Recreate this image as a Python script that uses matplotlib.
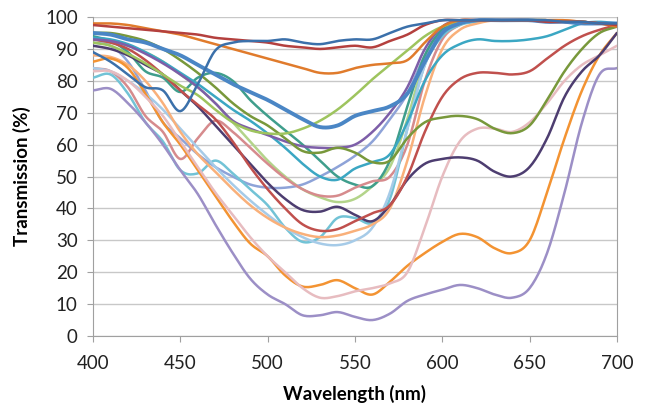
import numpy as np
import matplotlib
matplotlib.use("Agg")
import matplotlib.pyplot as plt

plt.rcParams['font.family'] = ['Lato', 'DejaVu Sans']

wavelength = list(range(400, 701, 10))

# Transmission (%) series, one value per 10 nm
s_jump_blue = [89, 86, 82, 78, 77, 70.5, 79, 89.5, 92, 92.5, 92.5, 93, 92, 91.5, 92.5, 93, 93, 95, 97, 98, 99, 99, 99, 99, 99, 99, 99, 98.5, 98.5, 98, 98]
s_dark_red = [97.5, 97, 96.5, 96, 95.5, 95, 94.5, 93.5, 93, 92.5, 92, 91, 90.5, 90, 90.5, 91, 90.5, 92.5, 94.5, 97.5, 99, 99, 99, 99, 99, 99, 98.5, 98.5, 98.5, 98, 97.5]
s_orange = [98, 98, 97.5, 96.5, 95.5, 94.5, 93, 91.5, 90, 88.5, 87, 85.5, 84, 82.5, 82.5, 84, 85, 85.5, 86.5, 92, 97, 99, 99, 99, 99, 99, 99, 99, 98.5, 98, 97]
s_thick_blue = [95, 94.5, 93, 92, 90, 88, 85, 82, 79, 76.5, 74, 71, 68, 65.5, 66, 69, 70.5, 72, 76, 86, 95, 98, 99, 99, 99, 99, 98.5, 98.5, 98, 98, 98]
s_light_green = [92, 91, 88.5, 85.5, 82, 78.5, 75.5, 71, 67, 64.5, 63.5, 63.5, 65, 67.5, 71, 75.5, 80.5, 85, 89.5, 94, 97, 98.5, 99, 99, 99, 99, 99, 98.5, 98.5, 98, 98]
s_olive = [95, 95, 94, 92.5, 90, 86.5, 82.5, 78, 73, 69, 66, 62, 58, 57.5, 59, 57.5, 54.5, 55, 62, 67, 68.5, 69, 68, 65, 63.6, 66, 74, 83, 90, 95, 97]
s_purple = [93, 92.5, 91, 88.5, 85.5, 82, 78, 73, 67.5, 65, 63, 61, 59.5, 59, 59, 60, 64, 70, 78, 90, 97, 99, 99, 99, 99, 99, 99, 98.5, 98.5, 98, 97.5]
s_aqua = [93.5, 93, 91.5, 89, 86, 82.5, 79, 75, 71, 67.5, 63.5, 59, 54, 50, 49, 52.5, 54.5, 57, 67, 80, 88, 91.5, 93, 92.5, 92.5, 93, 94, 96, 98, 98.5, 98]
s_red = [93, 92, 90, 86.5, 82, 77, 72.5, 68, 61, 53, 46, 40, 35, 33, 33.5, 36, 38.5, 41, 50, 64, 75, 80.5, 82.5, 82.5, 82, 83, 87, 91, 94, 96, 97.5]
s_navy = [91, 90, 88, 85, 82, 77, 72, 66, 60, 54, 48, 43, 39.5, 39, 40.5, 38, 36, 41, 49, 54, 55.5, 56, 55, 51.5, 50, 53, 62, 75, 83, 88, 95]
s_pink = [83, 83, 80, 75, 69, 61, 53, 45, 38, 31, 25, 20, 15, 12, 12.5, 14, 15, 16.5, 20, 34, 50, 61, 65, 65, 64, 67, 73, 80, 85, 88, 91]
s_lavender = [77, 77.5, 73, 67, 60, 52, 44.5, 35, 26, 18, 13, 10, 6.5, 6.5, 7.5, 6, 5, 7, 11, 13, 14.5, 16, 15, 13, 12, 15, 26, 45, 67, 82, 84]
s_deep_orange = [86, 87, 84, 76, 67, 60, 52, 44, 36, 29, 25, 19, 15.5, 16, 17.5, 15, 13, 17, 22, 26, 29.5, 32, 31, 27.5, 26, 30, 45, 62, 77, 88, 95]
s_peach = [88, 87.5, 85, 80, 73, 64, 57, 51.5, 46, 41, 37, 34, 32, 31, 31.5, 33, 35, 40, 55, 75, 90, 96, 98, 99, 99, 99, 99, 99, 98.5, 98, 98]
s_light_blue = [84, 83, 80, 76, 71, 65, 59, 53, 47.5, 42.5, 38, 34, 31, 29, 28.5, 30, 34, 45, 65, 85, 95, 98, 99, 99, 99, 99, 99, 98.5, 98.5, 98, 98]
s_aqua_light = [81, 82, 76, 67, 61, 52, 51, 55, 51, 46, 41, 34, 29.5, 31, 37, 37, 35.5, 43, 65, 85, 94, 97.5, 98.5, 99, 99, 99, 99, 98.5, 98.5, 98, 98]
s_rose = [84, 83, 78, 69, 64, 55.5, 62, 67.5, 64, 59, 54, 49.5, 46, 44, 44, 46.5, 48.5, 50, 60, 80, 93, 97.5, 99, 99, 99, 99, 99, 98.5, 98.5, 98, 98]
s_teal_green = [94, 92.5, 89, 83, 81, 76.5, 81, 82.5, 80, 74, 69, 64.5, 60, 55, 50, 47.5, 47, 55, 72, 88, 96, 98, 99, 99, 99, 99, 99, 98.5, 98.5, 98, 98]
s_periwinkle = [92, 91, 86, 77, 67, 62, 57, 53, 50, 47.5, 46.5, 46.5, 47.5, 50, 53, 56.5, 61, 68, 76, 88, 96, 98, 99, 99, 99, 99, 99, 98.5, 98.5, 98, 98]
s_pale_green = [93, 92, 91, 89, 86, 82, 78, 73, 67, 61, 55, 50, 46, 43.5, 42, 43, 47, 53, 68, 87, 96, 98, 99, 99, 99, 99, 99, 98.5, 98.5, 98, 98]

series = [
    (s_pale_green, '#b3d48a', 1.8),
    (s_periwinkle, '#8ea3d8', 1.8),
    (s_teal_green, '#3f9e8c', 1.8),
    (s_rose, '#d68b8d', 1.8),
    (s_aqua_light, '#72c3d6', 1.8),
    (s_light_blue, '#a6cbe8', 1.8),
    (s_peach, '#f9b07a', 1.8),
    (s_deep_orange, '#f39332', 1.8),
    (s_lavender, '#9c8fc6', 1.8),
    (s_pink, '#e7bcc0', 1.8),
    (s_navy, '#4d3d70', 1.8),
    (s_red, '#c0504d', 1.8),
    (s_aqua, '#3ba7c3', 1.8),
    (s_purple, '#7d5ea8', 1.8),
    (s_olive, '#78983b', 1.8),
    (s_light_green, '#9ec45e', 1.8),
    (s_thick_blue, '#4a86c5', 2.8),
    (s_orange, '#e07b2c', 1.8),
    (s_dark_red, '#b4403e', 1.8),
    (s_jump_blue, '#3b70aa', 1.8),
]


def smooth(x, y, n=12):
    # Catmull-Rom rendering, like a smoothed spreadsheet line
    x = np.asarray(x, float)
    y = np.asarray(y, float)
    px = np.concatenate([[2 * x[0] - x[1]], x, [2 * x[-1] - x[-2]]])
    py = np.concatenate([[2 * y[0] - y[1]], y, [2 * y[-1] - y[-2]]])
    t = np.linspace(0, 1, n, endpoint=False)
    ox, oy = [], []
    for i in range(1, len(px) - 2):
        for P, out in ((px, ox), (py, oy)):
            p0, p1, p2, p3 = P[i - 1], P[i], P[i + 1], P[i + 2]
            out.extend(0.5 * ((2 * p1) + (-p0 + p2) * t + (2 * p0 - 5 * p1 + 4 * p2 - p3) * t ** 2
                              + (-p0 + 3 * p1 - 3 * p2 + p3) * t ** 3))
    ox.append(x[-1])
    oy.append(y[-1])
    return np.array(ox), np.array(oy)


fig = plt.figure(figsize=(6.46, 4.11), dpi=100)
ax = fig.add_axes([0.144, 0.1825, 0.811, 0.776])

for vals, col, lw in series:
    sx, sy = smooth(wavelength, vals)
    ax.plot(sx, sy, color=col, lw=lw, solid_capstyle='round', zorder=3)

ax.set_xlim(400, 700)
ax.set_ylim(0, 100)
ax.set_xticks(range(400, 701, 50))
ax.set_yticks(range(0, 101, 10))
ax.yaxis.grid(True, color='#c8c8c8', lw=1.0, zorder=0)
ax.set_axisbelow(True)
for s in ax.spines.values():
    s.set_color('#a0a0a0')
ax.spines['top'].set_visible(False)
ax.tick_params(axis='both', labelsize=13.5, colors='#a0a0a0', labelcolor='#222222', length=4)
ax.tick_params(axis='x', pad=10)
ax.tick_params(axis='y', pad=7)
ax.set_xlabel('Wavelength (nm)', fontsize=13.5, fontweight='bold', labelpad=9)
ax.set_ylabel('Transmission (%)', fontsize=13.5, fontweight='bold', labelpad=10)

fig.savefig('out.png', dpi=100)
